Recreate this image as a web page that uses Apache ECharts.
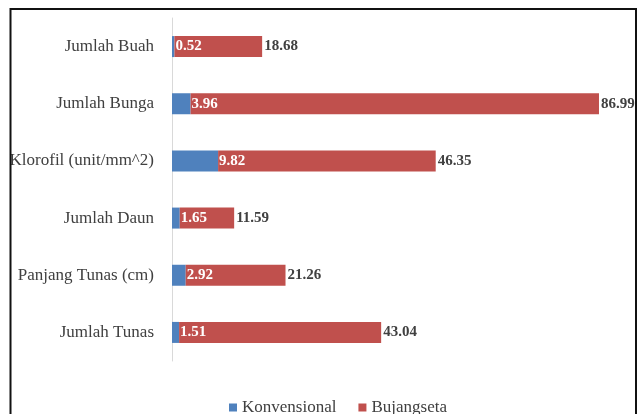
<!DOCTYPE html>
<html>
<head>
<meta charset="utf-8">
<script src="https://cdn.jsdelivr.net/npm/echarts@6/dist/echarts.min.js"></script>
<style>html,body{margin:0;padding:0;background:#fff}#c{width:641px;height:414px}</style>
</head>
<body>
<div id="c"></div>
<script>
const categories = ["Jumlah Buah", "Jumlah Bunga", "Klorofil (unit/mm^2)", "Jumlah Daun", "Panjang Tunas (cm)", "Jumlah Tunas"];
const konvensional = [0.52, 3.96, 9.82, 1.65, 2.92, 1.51];
const bujangseta = [18.68, 86.99, 46.35, 11.59, 21.26, 43.04];

const chart = echarts.init(document.getElementById('c'), null, {renderer: 'canvas'});
const serif = '"Liberation Serif", "DejaVu Serif", serif';
chart.setOption({
  animation: false,
  backgroundColor: '#fff',
  textStyle: {fontFamily: serif},
  graphic: [{
    type: 'rect', shape: {x: 10.5, y: 9, width: 625.5, height: 420},
    style: {fill: 'none', stroke: '#111', lineWidth: 2}, silent: true, z: 100
  }],
  legend: {
    top: 394, left: 224,
    itemWidth: 8, itemHeight: 8, itemGap: 22,
    icon: 'rect',
    textStyle: {fontFamily: serif, fontSize: 17, color: '#404040'},
    data: ['Konvensional', 'Bujangseta']
  },
  grid: {left: 172, right: 23, top: 18, bottom: 53, containLabel: false},
  xAxis: {type: 'value', min: 0, max: 95, show: false},
  yAxis: {
    type: 'category', inverse: true, data: categories,
    axisLine: {show: true, lineStyle: {color: '#d9d9d9', width: 1}},
    axisTick: {show: false},
    axisLabel: {fontFamily: serif, fontSize: 17, color: '#404040', margin: 18}
  },
  series: [
    {
      name: 'Konvensional', type: 'bar', stack: 's', data: konvensional,
      barWidth: 21,
      itemStyle: {color: '#4F81BD'},
      label: {show: true, position: 'right', distance: 1, color: '#fff', fontFamily: serif,
        fontSize: 15, fontWeight: 'bold', formatter: p => p.value.toFixed(2)}
    },
    {
      name: 'Bujangseta', type: 'bar', stack: 's', data: bujangseta,
      barWidth: 21,
      itemStyle: {color: '#C0504D'},
      label: {show: true, position: 'right', distance: 2, color: '#404040', fontFamily: serif,
        fontSize: 15, fontWeight: 'bold', formatter: p => p.value.toFixed(2)}
    }
  ]
});
</script>
</body>
</html>
